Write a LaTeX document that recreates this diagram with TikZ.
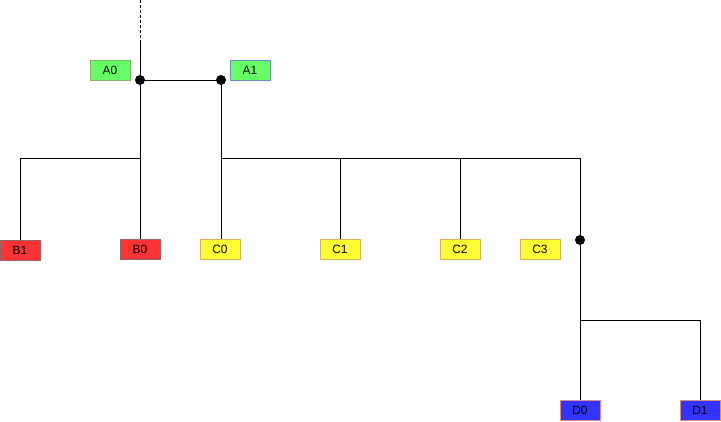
\documentclass[tikz,border=0pt]{standalone}
\usepackage{fontspec}
\setmainfont{Liberation Sans}
\begin{document}
\begin{tikzpicture}[x=1pt,y=-1pt,
  box/.style={draw, line width=0.8pt, minimum width=40pt, minimum height=20pt, inner sep=0pt, font=\fontsize{12}{14}\selectfont},
  gbox/.style={box, fill={rgb,255:red,102;green,255;blue,102}, draw={rgb,255:red,130;green,179;blue,102}},
  gbbox/.style={box, fill={rgb,255:red,102;green,255;blue,102}, draw={rgb,255:red,108;green,142;blue,191}},
  rbox/.style={box, fill={rgb,255:red,255;green,51;blue,51}, draw={rgb,255:red,150;green,100;blue,100}},
  ybox/.style={box, fill={rgb,255:red,255;green,255;blue,51}, draw={rgb,255:red,214;green,182;blue,86}},
  bbox/.style={box, fill={rgb,255:red,51;green,51;blue,255}, draw={rgb,255:red,220;green,140;blue,140}},
  dot/.style={circle, fill=black, minimum size=10pt, inner sep=0pt},
  link/.style={line width=1pt, black}]
\useasboundingbox (0,0) rectangle (721,421);
\node[gbox] (A0) at (110,70.5) {A0};
\node[gbbox] (A1) at (250,70.5) {A1};
\node[rbox] (B1) at (20,250.5) {B1};
\node[rbox] (B0) at (140,249) {B0};
\node[ybox] (C0) at (220,249) {C0};
\node[ybox] (C1) at (340,249) {C1};
\node[ybox] (C2) at (460,249) {C2};
\node[ybox] (C3) at (540,249) {C3};
\node[bbox] (D0) at (580,410) {D0};
\node[bbox] (D1) at (700,410) {D1};
\node[dot] (P) at (140,80) {};
\node[dot] (Q) at (221,80) {};
\node[dot] (R) at (580,240) {};
\coordinate (top) at (140,0);
\coordinate (dend) at (140,40);
\coordinate (hb) at (140,158);
\coordinate (hc) at (221,158);
\coordinate (hd) at (580,320);
\draw[link, dash pattern=on 3pt off 2pt] (top) -- (dend);
\draw[link] (dend) -- (P.center);
\draw[link] (P.center) -- (Q.center);
\draw[link] (P.center) -- (B0.north);
\draw[link] (hb) -| (B1.north);
\draw[link] (Q.center) -- (C0.north -| Q);
\draw[link] (hc) -- (580,158) -- (R.center);
\draw[link] (340,158) -- (C1.north);
\draw[link] (460,158) -- (C2.north);
\draw[link] (R.center) -- (D0.north);
\draw[link] (hd) -| (D1.north);
\end{tikzpicture}
\end{document}
